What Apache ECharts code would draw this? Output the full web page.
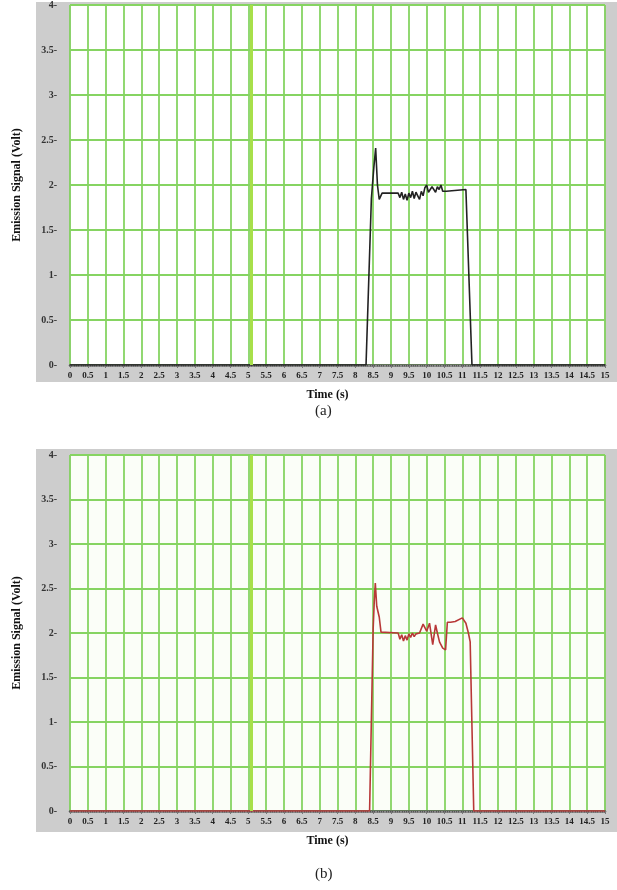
<!DOCTYPE html>
<html>
<head>
<meta charset="utf-8">
<title>Emission Signal</title>
<script type="text/javascript" src="https://cdn.jsdelivr.net/npm/echarts@6/dist/echarts.min.js"></script>
<style>
  html, body { margin: 0; padding: 0; background: #fff; }
  #chart { width: 617px; height: 890px; }
</style>
</head>
<body>
<div id="chart"></div>
<script type="text/javascript">
    // (a) black trace
    var timeA = [0, 8.3, 8.45, 8.52, 8.57, 8.62, 8.67, 8.75, 9.2, 9.25, 9.3, 9.35, 9.4, 9.45, 9.5, 9.55, 9.6, 9.65, 9.7,
        9.75, 9.8, 9.85, 9.9, 9.95, 10.0, 10.05, 10.1, 10.15, 10.2, 10.25, 10.3, 10.35, 10.4, 10.45, 10.5, 10.55, 10.6,
        11.1, 11.15, 11.27, 15];
    var voltA = [0, 0, 1.85, 2.2, 2.41, 2.0, 1.84, 1.91, 1.91, 1.86, 1.92, 1.84, 1.9, 1.83, 1.91, 1.86, 1.93, 1.85, 1.92,
        1.88, 1.84, 1.93, 1.88, 1.97, 2.0, 1.92, 1.9, 1.98, 1.95, 1.92, 1.98, 1.95, 2.0, 1.93, 1.95, 1.93, 1.94,
        1.95, 1.93, 0, 0];

    // (b) red trace
    var timeB = [0, 8.4, 8.5, 8.53, 8.56, 8.6, 8.67, 8.72, 9.2, 9.25, 9.3, 9.35, 9.4, 9.45, 9.5, 9.55, 9.6, 9.65, 9.7,
        9.75, 9.8, 9.85, 9.9, 9.95, 10.0, 10.03, 10.08, 10.17, 10.25, 10.3, 10.36, 10.45, 10.53, 10.58, 10.67, 10.8,
        11.0, 11.1, 11.17, 11.22, 11.32, 15];
    var voltB = [0, 0, 2.05, 2.35, 2.56, 2.3, 2.18, 2.01, 2.0, 1.93, 1.98, 1.91, 1.97, 1.92, 1.99, 1.95, 2.0, 1.96, 1.99,
        1.97, 2.0, 1.99, 2.1, 2.11, 2.02, 2.03, 2.11, 1.87, 2.09, 2.0, 1.9, 1.83, 1.81, 2.12, 2.12, 2.13,
        2.17, 2.11, 2.0, 1.9, 0, 0];

    var xTicks = { min: 0, max: 15, interval: 0.5 };
    var yTicks = { min: 0, max: 4, interval: 0.5 };
    var boldSerif = 'Liberation Serif';

    function pairs(ts, vs) {
        return ts.map(function (t, i) { return [t, vs[i]]; });
    }

    function makeX(idx) {
        return {
            type: 'value', gridIndex: idx,
            min: xTicks.min, max: xTicks.max, interval: xTicks.interval,
            name: 'Time (s)', nameLocation: 'middle', nameGap: 24,
            nameTextStyle: { fontFamily: boldSerif, fontWeight: 'bold', fontSize: 12, color: '#111', padding: [0, 20, 0, 0] },
            axisLine: { show: true, onZero: false, lineStyle: { color: '#555', width: 2.5 } },
            axisTick: { show: true, length: 3, lineStyle: { color: '#777' } },
            minorTick: { show: true, splitNumber: 10, length: 2, lineStyle: { color: '#8a8a8a' } },
            axisLabel: {
                margin: 6, fontFamily: boldSerif, fontWeight: 'bold', fontSize: 9, color: '#222',
                formatter: function (v) { return String(v); }
            },
            splitLine: { show: true, lineStyle: { color: '#86d462', width: 1.8 } }
        };
    }

    function makeY(idx) {
        return {
            type: 'value', gridIndex: idx,
            min: yTicks.min, max: yTicks.max, interval: yTicks.interval,
            name: 'Emission Signal (Volt)', nameLocation: 'middle', nameGap: 47, nameRotate: 90,
            nameTextStyle: { fontFamily: boldSerif, fontWeight: 'bold', fontSize: 12, color: '#111' },
            axisLine: { show: false },
            axisTick: { show: false },
            axisLabel: {
                margin: 13, fontFamily: boldSerif, fontWeight: 'bold', fontSize: 10, color: '#333',
                formatter: function (v) { return v + '-'; }
            },
            splitLine: { show: true, lineStyle: { color: '#86d462', width: 1.8 } }
        };
    }

    var option = {
        backgroundColor: '#fff',
        animation: false,
        graphic: [
            { type: 'rect', z: -10, shape: { x: 36, y: 2, width: 581, height: 380 }, style: { fill: '#cdcdcd' } },
            { type: 'rect', z: -10, shape: { x: 36, y: 449, width: 581, height: 383 }, style: { fill: '#cdcdcd' } },
            { type: 'text', left: 315, top: 404, style: { text: '(a)', font: '15px "Liberation Serif"', fill: '#222' } },
            { type: 'text', left: 315, top: 867, style: { text: '(b)', font: '15px "Liberation Serif"', fill: '#222' } }
        ],
        grid: [
            { left: 70, width: 535, top: 5, height: 360, show: true, backgroundColor: '#fff', borderColor: '#888', borderWidth: 1 },
            { left: 70, width: 535, top: 455, height: 356, show: true, backgroundColor: '#fbfef8', borderColor: '#888', borderWidth: 1 }
        ],
        xAxis: [makeX(0), makeX(1)],
        yAxis: [makeY(0), makeY(1)],
        series: [
            {
                type: 'line', xAxisIndex: 0, yAxisIndex: 0, showSymbol: false, symbol: 'none',
                lineStyle: { color: '#222', width: 1.6 },
                data: pairs(timeA, voltA),
                markLine: {
                    silent: true, symbol: 'none', label: { show: false },
                    lineStyle: { color: '#a8e04a', width: 3, type: 'solid' },
                    data: [{ xAxis: 5.08 }]
                }
            },
            {
                type: 'line', xAxisIndex: 1, yAxisIndex: 1, showSymbol: false, symbol: 'none',
                lineStyle: { color: '#b83838', width: 1.6 },
                data: pairs(timeB, voltB),
                markLine: {
                    silent: true, symbol: 'none', label: { show: false },
                    lineStyle: { color: '#a8e04a', width: 3, type: 'solid' },
                    data: [{ xAxis: 5.08 }]
                }
            }
        ]
    };

    var chart = echarts.init(document.getElementById('chart'));
    chart.setOption(option);
</script>
</body>
</html>
